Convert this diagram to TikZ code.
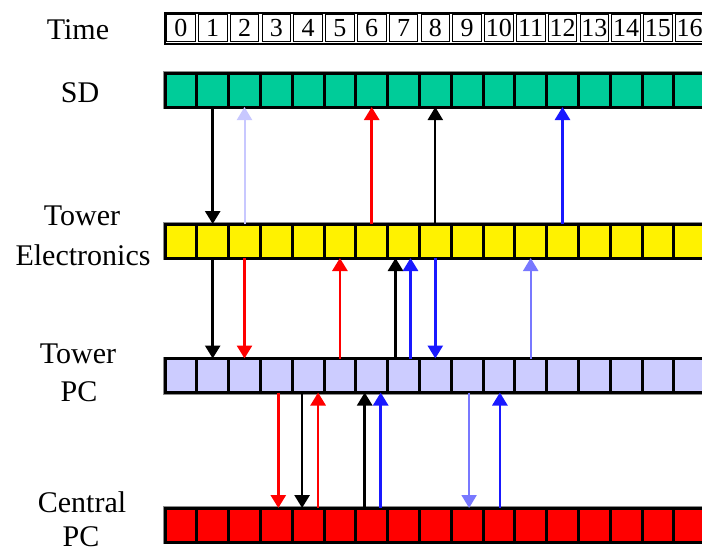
\documentclass[tikz,border=0pt]{standalone}
\usepackage{fontspec}
\setmainfont{Liberation Serif}
\usetikzlibrary{arrows.meta,calc}
\definecolor{sdgreen}{RGB}{0,204,153}
\definecolor{tpcblue}{RGB}{204,204,255}
\definecolor{lav}{RGB}{200,200,255}
\definecolor{midblue}{RGB}{120,120,255}
\definecolor{arrblue}{RGB}{25,25,255}
\begin{document}
\begin{tikzpicture}[x=1pt,y=-1pt,
  cell/.style={draw=black, line width=3pt, minimum width=31.8pt, minimum height=34pt, inner sep=0pt, outer sep=0pt, anchor=west},
  tcell/.style={draw=black, line width=0.9pt, minimum width=28.6pt, minimum height=27pt, inner sep=0pt, font=\fontsize{26}{26}\selectfont},
  lbl/.style={anchor=base, font=\fontsize{30}{30}\selectfont, inner sep=0pt},
  rowframe/.style={draw=black!45, line width=1pt},
  arr/.style={-{Triangle[width=15pt,length=13pt]}, line width=2.7pt},
  thinarr/.style={-{Triangle[width=15pt,length=13pt]}, line width=2pt},
]
\clip (0,0) rectangle (702,552);
\fill[white] (0,0) rectangle (702,552);

% labels
\node[lbl] (ltime) at (78,39) {Time};
\node[lbl] (lsd) at (80,102) {SD};
\node[lbl] (lte1) at (82,225) {Tower};
\node[lbl] (lte2) at (83,265) {Electronics};
\node[lbl] (ltpc1) at (78,363) {Tower};
\node[lbl] (ltpc2) at (79,401) {PC};
\node[lbl] (lcpc1) at (82,512) {Central};
\node[lbl] (lcpc2) at (81,546) {PC};

% time row
\draw[black, line width=2.2pt] (165,12.8) rectangle (708,43.6);
\foreach \i in {0,...,16}{
  \node[tcell] (t\i) at ({165+31.8*\i+15.9},28.2) {\i};
}

% rows
\draw[rowframe] (163,71.5) rectangle (710,108.5);
\draw[rowframe] (163,222.5) rectangle (710,259.5);
\draw[rowframe] (163,357) rectangle (710,394);
\draw[rowframe] (163,506.5) rectangle (710,543.5);
\foreach \i in {0,...,16}{
  \node[cell, fill=sdgreen] (sd\i) at ({165+31.8*\i},90) {};
  \node[cell, fill=yellow] (te\i) at ({165+31.8*\i},241) {};
  \node[cell, fill=tpcblue] (tpc\i) at ({165+31.8*\i},375.5) {};
  \node[cell, fill=red] (cpc\i) at ({165+31.8*\i},525) {};
}

% SD <-> Tower Electronics
\draw[arr, black] (sd1.south) -- (te1.north);
\draw[thinarr, lav] (te2.north) -- (sd2.south);
\draw[arr, red] (te6.north) -- (sd6.south);
\draw[thinarr, black] (te8.north) -- (sd8.south);
\draw[arr, arrblue] (te12.north) -- (sd12.south);

% Tower Electronics <-> Tower PC
\draw[arr, black] (te1.south) -- (tpc1.north);
\draw[arr, red] (te2.south) -- (tpc2.north);
\draw[arr, red] (tpc5.north) -- (te5.south);
\draw[arr, black] ($(tpc7.north)+(-8,0)$) -- ($(te7.south)+(-8,0)$);
\draw[arr, arrblue] ($(tpc7.north)+(7,0)$) -- ($(te7.south)+(7,0)$);
\draw[arr, arrblue] (te8.south) -- (tpc8.north);
\draw[thinarr, midblue] (tpc11.north) -- (te11.south);

% Tower PC <-> Central PC
\draw[arr, red] ($(tpc3.south)+(2,0)$) -- ($(cpc3.north)+(2,0)$);
\draw[arr, black] ($(tpc4.south)+(-6,0)$) -- ($(cpc4.north)+(-6,0)$);
\draw[arr, red] ($(cpc4.north)+(10,0)$) -- ($(tpc4.south)+(10,0)$);
\draw[arr, black] ($(cpc6.north)+(-7,0)$) -- ($(tpc6.south)+(-7,0)$);
\draw[arr, arrblue] ($(cpc6.north)+(9,0)$) -- ($(tpc6.south)+(9,0)$);
\draw[thinarr, midblue] ($(tpc9.south)+(2,0)$) -- ($(cpc9.north)+(2,0)$);
\draw[arr, arrblue] ($(cpc10.north)+(1,0)$) -- ($(tpc10.south)+(1,0)$);
\end{tikzpicture}
\end{document}
